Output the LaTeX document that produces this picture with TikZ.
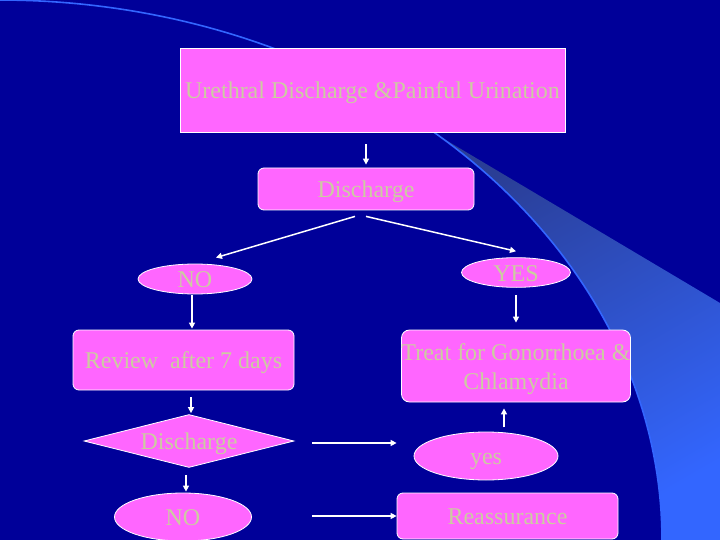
\documentclass[tikz,border=0pt]{standalone}
\usepackage{fontspec}
\setmainfont{Liberation Serif}
\usetikzlibrary{arrows.meta,shapes.geometric,calc}
\definecolor{bg}{RGB}{0,0,153}
\definecolor{pinkf}{RGB}{255,102,255}
\definecolor{txt}{RGB}{204,204,160}
\definecolor{swl}{RGB}{51,102,255}
\definecolor{swd}{RGB}{42,62,150}
\begin{document}
\begin{tikzpicture}[x=1pt,y=-1pt,
  font=\fontsize{24}{29}\selectfont,
  base/.style={fill=pinkf, draw=white, line width=0.8pt, text=txt, inner sep=0pt, align=center,
    text height=19pt, text depth=2pt},
  sqbox/.style={base, rectangle},
  rbox/.style={base, rectangle, rounded corners=6pt},
  oval/.style={base, ellipse},
  dia/.style={base, diamond, aspect=4},
  arr/.style={draw=white, line width=1.5pt, -{Triangle[length=6pt,width=6pt]}}
]
\useasboundingbox (0,0) rectangle (720,540);
\fill[bg] (0,0) rectangle (720,540);
% swoosh
\shade[top color=swd, middle color=swl, bottom color=swl, shading angle=30]
  (720,303) -- (434,133) -- plot[domain=-48.9:0, samples=50] ({662*cos(\x)},{540+540*sin(\x)}) -- (720,540) -- cycle;
\draw[swl, line width=1.6pt] plot[domain=-90:0, samples=90] ({662*cos(\x)},{540+540*sin(\x)});

% nodes
\node[sqbox, minimum width=385, minimum height=84] (top) at (372.5,90) {Urethral Discharge \&Painful Urination};
\node[rbox, minimum width=216, minimum height=42] (disc) at (366,189) {Discharge};
\node[oval, minimum width=114, minimum height=30] (no1) at (195,279) {NO};
\node[oval, minimum width=109, minimum height=29] (yes1) at (516,272.5) {YES};
\node[rbox, minimum width=221, minimum height=60] (rev) at (183.5,360) {Review\ \ after 7 days};
\node[rbox, rounded corners=8pt, minimum width=228, minimum height=72, text height={}, text depth={}] (treat) at (516,366)
  {\raisebox{-3pt}[\height][\depth]{\begin{tabular}{@{}c@{}}Treat for Gonorrhoea \&\\Chlamydia\end{tabular}}};
\node[dia, minimum width=210, minimum height=53] (diam) at (189,441) {Discharge};
\node[oval, minimum width=137, minimum height=48] (no2) at (183,517) {NO};
\node[oval, minimum width=144, minimum height=48] (yes2) at (486,456) {yes};
\node[rbox, minimum width=221, minimum height=46] (reass) at (507.5,516) {Reassurance};

% connectors
\draw[arr] ($(top.south -| disc.north)+(0,12)$) -- ($(disc.north)+(0,-3)$);
\draw[arr] ($(disc.south)+(-11,6)$) -- ($(no1.north)+(21,-6)$);
\draw[arr] ($(disc.south)+(0,6)$) -- ($(yes1.north)+(0,-6)$);
\draw[arr] ($(no1.south)+(-3,1)$) -- ($(no1.south |- rev.north)+(-3,-1)$);
\draw[arr] ($(yes1.south)+(0,7)$) -- ($(treat.north)+(0,-7)$);
\draw[arr] ($(diam.north |- rev.south)+(2,7)$) -- ($(diam.north)+(2,-1)$);
\draw[arr] ($(diam.south)+(-3,7)$) -- ($(no2.north)+(3,-1)$);
\draw[arr] ($(diam.east)+(18,2)$) -- ($(yes2.west |- diam.east)+(-17,2)$);
\draw[arr] ($(reass.west -| no2.east)+(60,0)$) -- (reass.west);
\draw[arr] ($(treat.south)+(-12,25)$) -- ($(treat.south)+(-12,6)$);
\end{tikzpicture}
\end{document}
